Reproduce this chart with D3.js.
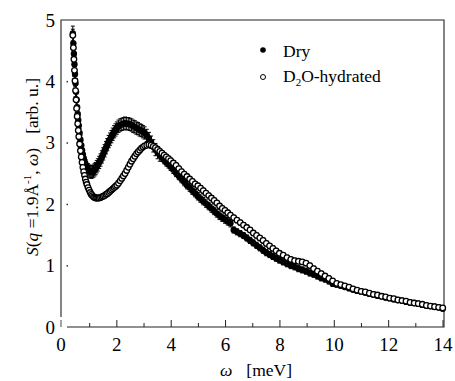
<!DOCTYPE html>
<html><head><meta charset="utf-8">
<script src="https://cdn.jsdelivr.net/npm/d3@7"></script>
<style>body{margin:0;background:#fff}svg{display:block}text{font-family:"Liberation Serif","Times New Roman",serif;fill:#000}</style>
</head><body>
<svg id="c" width="455" height="381"></svg>
<script>
const omega = [0.38,0.40,0.42,0.44,0.46,0.48,0.50,0.52,0.54,0.56,0.58,0.60,
0.63,0.66,0.69,0.72,0.75,0.78,0.81,0.84,0.87,0.90,
0.94,0.98,1.02,1.06,1.10,1.14,1.18,1.22,1.26,1.30,
1.35,1.40,1.45,1.50,1.55,1.60,1.65,1.70,1.75,1.80,1.85,1.90,1.95,2.00,
2.06,2.12,2.18,2.24,2.30,2.36,2.42,2.48,2.54,2.60,2.66,2.72,2.78,2.84,2.90,2.96,3.02,
3.10,3.18,3.26,3.34,3.42,3.50,3.58,3.66,3.74,3.82,3.90,3.98,
4.08,4.18,4.28,4.38,4.48,4.58,4.68,4.78,4.88,4.98,5.08,5.18,5.28,5.38,5.48,5.58,5.68,5.78,5.88,5.98,6.08,6.18,
6.30,6.42,6.54,6.66,6.78,6.90,7.02,7.14,7.26,7.38,7.50,7.62,7.74,7.86,7.98,
8.12,8.26,8.40,8.54,8.68,8.82,8.96,9.10,9.24,9.38,9.52,9.66,9.80,9.94,
10.09,10.24,10.39,10.54,10.69,10.84,10.99,11.14,11.29,11.44,11.59,11.74,11.89,12.04,12.19,12.34,12.49,12.64,12.79,12.94,13.09,13.24,13.39,13.54,13.69,13.84,13.99];

const dry = [4.78,4.62,4.45,4.28,4.12,3.97,3.83,3.70,3.58,3.47,3.37,3.28,
3.16,3.05,2.96,2.88,2.81,2.75,2.70,2.66,2.62,2.59,
2.56,2.54,2.53,2.52,2.53,2.54,2.56,2.58,2.61,2.64,
2.68,2.72,2.77,2.82,2.87,2.92,2.97,3.02,3.06,3.10,3.14,3.18,3.21,3.24,
3.27,3.29,3.30,3.31,3.32,3.31,3.31,3.30,3.29,3.27,3.26,3.24,3.23,3.21,3.20,3.18,3.16,
3.12,3.07,3.01,2.95,2.89,2.84,2.80,2.76,2.72,2.68,2.65,2.61,
2.56,2.51,2.46,2.41,2.36,2.31,2.27,2.22,2.18,2.13,2.09,2.05,2.01,1.97,1.93,1.89,1.85,1.81,1.78,1.75,1.72,1.69,
1.58,1.55,1.52,1.49,1.45,1.41,1.37,1.33,1.29,1.25,1.21,1.18,1.15,1.12,1.09,
1.06,1.03,1.00,0.98,0.95,0.93,0.91,0.88,0.86,0.83,0.80,0.78,0.75,0.71,
0.69,0.67,0.65,0.63,0.61,0.59,0.58,0.56,0.54,0.53,0.51,0.50,0.48,0.47,0.45,0.44,0.43,0.41,0.40,0.39,0.38,0.36,0.35,0.34,0.33,0.32,0.30];

const hydrated = [4.75,4.55,4.36,4.18,4.01,3.85,3.70,3.56,3.43,3.31,3.20,3.10,
2.98,2.87,2.77,2.68,2.60,2.53,2.47,2.41,2.36,2.32,
2.27,2.23,2.19,2.16,2.14,2.12,2.11,2.10,2.10,2.10,
2.10,2.11,2.12,2.13,2.14,2.16,2.17,2.19,2.21,2.23,2.25,2.27,2.29,2.31,
2.34,2.38,2.42,2.46,2.50,2.55,2.60,2.65,2.70,2.74,2.78,2.82,2.85,2.88,2.91,2.93,2.95,
2.96,2.97,2.96,2.94,2.92,2.89,2.86,2.83,2.80,2.77,2.74,2.71,
2.67,2.63,2.58,2.53,2.49,2.45,2.41,2.37,2.33,2.30,2.26,2.22,2.18,2.14,2.10,2.06,2.02,1.97,1.93,1.90,1.86,1.82,
1.78,1.74,1.70,1.66,1.62,1.58,1.53,1.49,1.45,1.41,1.36,1.32,1.28,1.24,1.20,
1.17,1.13,1.10,1.08,1.07,1.06,1.04,1.00,0.95,0.91,0.87,0.83,0.79,0.75,
0.71,0.69,0.67,0.65,0.62,0.60,0.58,0.57,0.55,0.53,0.52,0.50,0.49,0.47,0.46,0.44,0.43,0.42,0.40,0.39,0.38,0.37,0.35,0.34,0.33,0.32,0.31];

// error bar half-widths by omega range
const errBreaks = [0.62, 0.92, 3.6, 6.25, 10.0];
const dryErrLevels = [0.12, 0.07, 0.10, 0.06, 0.05, 0.04];
const hydErrLevels = [0.10, 0.05, 0.04, 0.04, 0.04, 0.03];

const xTicks = [0,2,4,6,8,10,12,14];
const xMinor = [1,3,5,7,9,11,13];
const yTicks = [0,1,2,3,4,5];
const seriesNames = ["Dry", "D2O-hydrated"];

const svg = d3.select("#c");
const x = d3.scaleLinear().domain([0,14]).range([62.5,443]);
const y = d3.scaleLinear().domain([0,5]).range([327,20]);
const dryErr = d3.scaleThreshold().domain(errBreaks).range(dryErrLevels);
const hydErr = d3.scaleThreshold().domain(errBreaks).range(hydErrLevels);

// frame
svg.append("path").attr("d","M61,317V20H444V327H67").attr("fill","none").attr("stroke","#222").attr("stroke-width",1.1);
svg.append("line").attr("x1",61).attr("x2",61).attr("y1",320).attr("y2",327).attr("stroke","#444");

// x ticks (inward)
svg.selectAll(".xt").data(xTicks.filter(d=>d>0)).join("line")
  .attr("x1",d=>x(d)).attr("x2",d=>x(d)).attr("y1",327).attr("y2",320)
  .attr("stroke","#222");
svg.selectAll(".xm").data(xMinor).join("line")
  .attr("x1",d=>x(d)).attr("x2",d=>x(d)).attr("y1",327).attr("y2",323)
  .attr("stroke","#222");
svg.selectAll(".xl").data(xTicks).join("text")
  .attr("x",d=>x(d)-(d===0?1.5:0)).attr("y",351).attr("text-anchor","middle")
  .attr("font-size",19).text(d=>d);

// y ticks
svg.selectAll(".yt").data(yTicks.filter(d=>d>0&&d<5)).join("rect")
  .attr("x",66.5).attr("y",d=>y(d)-0.5).attr("width",1.5).attr("height",1.5).attr("fill","#333");
svg.selectAll(".yl").data(yTicks).join("text")
  .attr("x",55).attr("y",d=>y(d)+6.5).attr("text-anchor","end")
  .attr("font-size",19).text(d=>d);

// error bars + markers
function drawSeries(vals, errFn, filled) {
  const g = svg.append("g");
  const pts = omega.map((w,i)=>({w, s: vals[i], e: errFn(w)}));
  g.selectAll("line.e").data(pts).join("line")
    .attr("x1",d=>x(d.w)).attr("x2",d=>x(d.w))
    .attr("y1",d=>y(d.s+d.e)).attr("y2",d=>y(d.s-d.e))
    .attr("stroke","#000").attr("stroke-width",1);
  g.selectAll("line.c1").data(pts).join("line")
    .attr("x1",d=>x(d.w)-2).attr("x2",d=>x(d.w)+2)
    .attr("y1",d=>y(d.s+d.e)).attr("y2",d=>y(d.s+d.e))
    .attr("stroke","#000").attr("stroke-width",1);
  g.selectAll("line.c2").data(pts).join("line")
    .attr("x1",d=>x(d.w)-2).attr("x2",d=>x(d.w)+2)
    .attr("y1",d=>y(d.s-d.e)).attr("y2",d=>y(d.s-d.e))
    .attr("stroke","#000").attr("stroke-width",1);
  g.selectAll("circle").data(pts).join("circle")
    .attr("cx",d=>x(d.w)).attr("cy",d=>y(d.s)).attr("r",filled?3.2:2.8)
    .attr("fill",filled?"#000":"#fff").attr("stroke","#000").attr("stroke-width",filled?0:1.3);
}
drawSeries(dry, dryErr, true);
drawSeries(hydrated, hydErr, false);

// legend
svg.append("circle").attr("cx",263).attr("cy",50).attr("r",2.8).attr("fill","#000");
svg.append("text").attr("x",283).attr("y",57).attr("font-size",17.5).text(seriesNames[0]);
svg.append("circle").attr("cx",263).attr("cy",77).attr("r",2.5).attr("fill","#fff").attr("stroke","#000").attr("stroke-width",1);
const t2 = svg.append("text").attr("x",283).attr("y",82).attr("font-size",17.5);
t2.append("tspan").text("D");
t2.append("tspan").attr("font-size",11).attr("dy",4).text("2");
t2.append("tspan").attr("dy",-4).text("O-hydrated");

// y label
const yl = svg.append("text").attr("transform","translate(38,167) rotate(-90)")
  .attr("text-anchor","middle").attr("font-size",17.5);
yl.append("tspan").attr("font-style","italic").text("S");
yl.append("tspan").text("(");
yl.append("tspan").attr("font-style","italic").text("q");
yl.append("tspan").text(" =1.9Å");
yl.append("tspan").attr("font-size",11).attr("dy",-7).text("-1");
yl.append("tspan").attr("dy",7).text(", ");
yl.append("tspan").attr("font-style","italic").text("ω");
yl.append("tspan").text(")");
yl.append("tspan").attr("dx",14).text("[arb. u.]");

// x label
const xl = svg.append("text").attr("x",256).attr("y",376).attr("text-anchor","middle").attr("font-size",17.5);
xl.append("tspan").attr("font-style","italic").text("ω");
xl.append("tspan").attr("dx",14).text("[meV]");
</script>
</body></html>
